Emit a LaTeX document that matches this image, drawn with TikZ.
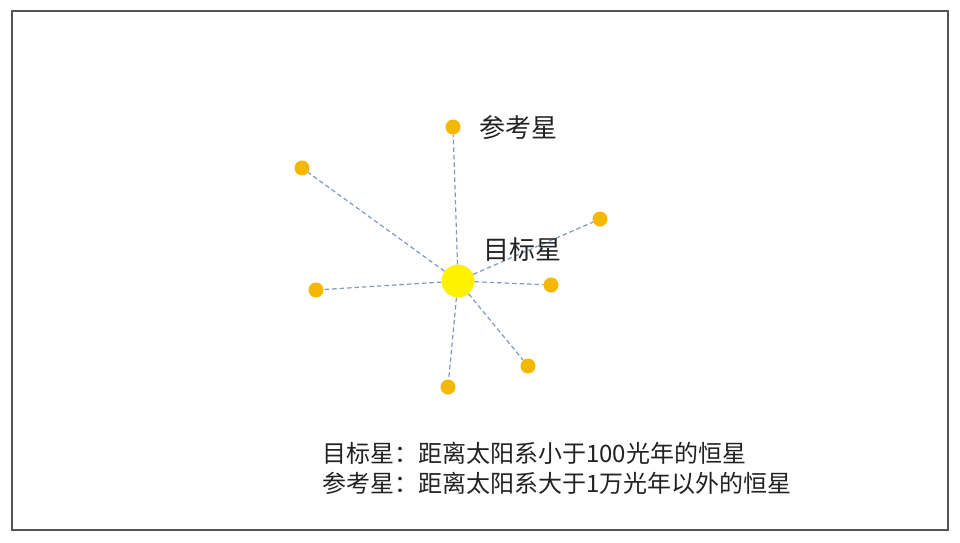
\documentclass[tikz,border=0pt]{standalone}
\usepackage{fontspec}
\setmainfont{Noto Sans CJK SC}
\usepackage{xcolor}
\usepackage{tikz}
\definecolor{frame}{HTML}{555555}
\definecolor{link}{HTML}{7F98BC}
\definecolor{star}{HTML}{F5B800}
\definecolor{sun}{HTML}{FFF200}
\definecolor{ink}{HTML}{222222}
\tikzset{
  box/.style={draw=frame, line width=1.5pt},
  lnk/.style={draw=link, dash pattern=on 4.5pt off 3pt, line width=1.2pt},
  refstar/.style={circle, fill=star, inner sep=0pt, minimum size=15pt},
  tgtstar/.style={circle, fill=sun, inner sep=0pt, minimum size=33pt},
  lbl/.style={text=ink, font=\fontsize{26}{30}\selectfont, anchor=west, inner sep=0pt},
  note/.style={text=ink, font=\fontsize{24}{29}\selectfont, anchor=west, inner sep=0pt}
}
\begin{document}
\begin{tikzpicture}[x=1pt,y=-1pt]
\useasboundingbox (0,0) rectangle (960,542);
\draw[box] (12,11) rectangle (948,530);
% target and reference stars
\node[tgtstar] (c) at (458,281) {};
\node[refstar] (s1) at (453,127) {};
\node[refstar] (s2) at (302,168) {};
\node[refstar] (s3) at (600,219) {};
\node[refstar] (s4) at (551,285) {};
\node[refstar] (s5) at (316,290) {};
\node[refstar] (s6) at (528,366) {};
\node[refstar] (s7) at (448,387) {};
\foreach \s in {s1,s2,s3,s4,s5,s6,s7}
  \draw[lnk] (c) -- (\s);
% labels
\node[lbl] (lref) at (479,128) {参考星};
\node[lbl] (ltgt) at (483,250) {目标星};
\node[note] (n1) at (322,453) {目标星：距离太阳系小于100光年的恒星};
\node[note] (n2) at (322,483) {参考星：距离太阳系大于1万光年以外的恒星};
\end{tikzpicture}
\end{document}
